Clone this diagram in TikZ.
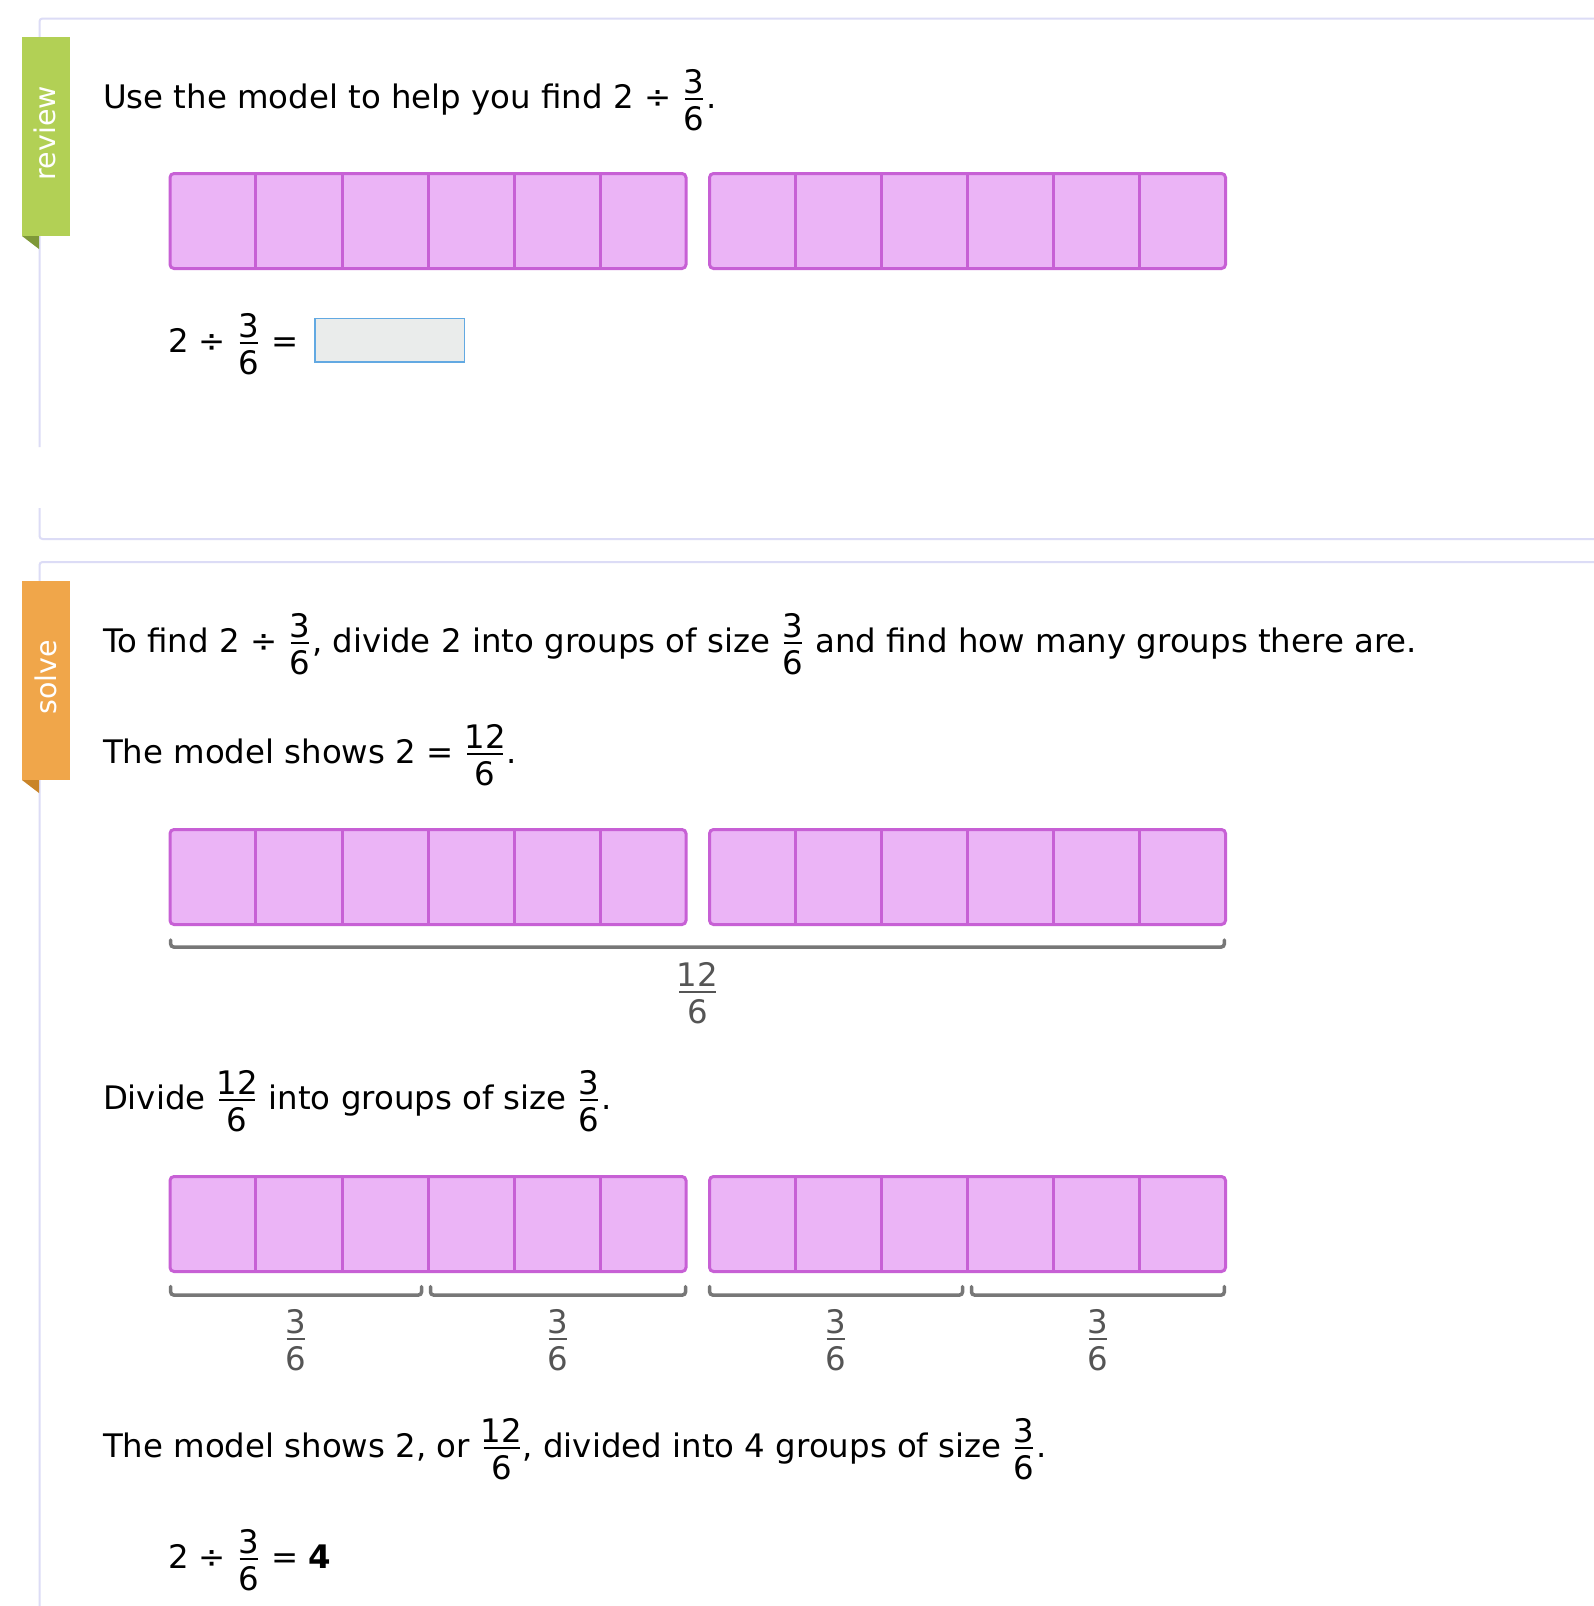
\documentclass[tikz,border=0pt]{standalone}
\usepackage{fontspec}
\setmainfont{DejaVu Sans}
\usetikzlibrary{calc}
\definecolor{barfill}{HTML}{EBB4F6}
\definecolor{barline}{HTML}{C760D5}
\definecolor{brkcol}{HTML}{777777}
\definecolor{lblcol}{HTML}{555555}
\definecolor{panelcol}{HTML}{DCDCF6}
\definecolor{tabgreen}{HTML}{B2D055}
\definecolor{foldgreen}{HTML}{7E9838}
\definecolor{taborange}{HTML}{F0A64A}
\definecolor{foldorange}{HTML}{C98428}
\definecolor{boxfill}{HTML}{EAECEB}
\definecolor{boxline}{HTML}{62A9E2}
\newdimen\frw
\newsavebox\frnum
\newsavebox\frden
\newcommand{\fr}[2]{%
  \sbox\frnum{#1}\sbox\frden{#2}%
  \frw=\wd\frnum \ifdim\wd\frden>\frw \frw=\wd\frden\fi
  \ifdim\frw>0.8em \advance\frw by -0.16em\relax \else \advance\frw by -0.08em\relax \fi
  \kern0.1em\relax
  \raisebox{0.44em}{\makebox[\frw]{\usebox\frnum}}\kern-\frw
  \raisebox{0.24em}{\rule{\frw}{0.06em}}\kern-\frw
  \raisebox{-0.7em}{\makebox[\frw]{\usebox\frden}}%
  \kern0.1em\relax}
\tikzset{
  txt/.style={anchor=base west, inner sep=0pt, outer sep=0pt, font=\fontsize{32.4}{38}\selectfont, text=black},
  lbl/.style={anchor=base, inner sep=0pt, outer sep=0pt, font=\fontsize{32.4}{38}\selectfont, text=lblcol},
  tabtxt/.style={rotate=90, inner sep=0pt, font=\fontsize{28.5}{33}\selectfont, text=white},
  barbox/.style={draw=barline, fill=barfill, line width=3pt, rounded corners=4pt,
    minimum width=516pt, minimum height=95pt, inner sep=0pt, outer sep=0pt, anchor=north west},
  divline/.style={draw=barline, line width=3pt},
  brkt/.style={draw=brkcol, line width=3.5pt, line cap=round, rounded corners=3pt},
  panelline/.style={draw=panelcol, line width=2pt, rounded corners=3pt},
}
\newcommand{\modelbar}[3]{%
  \node[barbox] (#1) at (#2,#3) {};
  \foreach \k in {1,...,5}{%
    \draw[divline] ($(#1.north west)!\k/6!(#1.north east)$) -- ($(#1.south west)!\k/6!(#1.south east)$);}%
}
\begin{document}
\begin{tikzpicture}[x=1pt,y=-1pt]
\useasboundingbox[fill=white] (0,0) rectangle (1594,1606);

% panels
\draw[panelline] (1594,18.5) -- (39.5,18.5) -- (39.5,447);
\draw[panelline] (39.5,508) -- (39.5,539) -- (1594,539);
\draw[panelline] (1594,562) -- (39.5,562) -- (39.5,1606);

% tabs
\fill[tabgreen] (22,37) rectangle (70,236);
\fill[foldgreen] (22,236) -- (39,236) -- (39,249) -- cycle;
\node[tabtxt] (review) at (45,133) {review};
\fill[taborange] (22,581) rectangle (70,780);
\fill[foldorange] (22,780) -- (39,780) -- (39,793) -- cycle;
\node[tabtxt] (solve) at (45.5,677) {solve};

% review panel
\node[txt] (q1) at (103,108) {Use the model to help you find 2 ÷ \fr{3}{6}.};
\modelbar{ra}{170}{173.5}
\modelbar{rb}{709.5}{173.5}
\node[txt] (eq1) at (168,352) {2 ÷ \fr{3}{6} =};
\node[draw=boxline, fill=boxfill, line width=1.5pt, minimum width=149.5pt, minimum height=43.5pt,
  inner sep=0pt, anchor=north west] (ans) at (314.25,317.75) {};

% solve panel
\node[txt] (s1) at (103,652) {To find 2 ÷ \fr{3}{6}, divide 2 into groups of size \fr{3}{6} and find how many groups there are.};
\node[txt] (s2) at (103,763) {The model shows 2 = \fr{12}{6}.};
\modelbar{sa}{170}{829.5}
\modelbar{sb}{709.5}{829.5}
\coordinate (k1a) at (170.7,940);
\coordinate (k1b) at (1224.3,940);
\draw[brkt] (k1a) -- ++(0,7) -| (k1b);
\node[lbl] (l12) at (697.5,1001) {\fr{12}{6}};

\node[txt] (s3) at (103,1109) {Divide \fr{12}{6} into groups of size \fr{3}{6}.};
\modelbar{ta}{170}{1176.5}
\modelbar{tb}{709.5}{1176.5}
\coordinate (g1a) at (170.7,1286.5); \coordinate (g1b) at (421.5,1286.5);
\coordinate (g2a) at (430.5,1286.5); \coordinate (g2b) at (685.5,1286.5);
\coordinate (g3a) at (709.7,1286.5); \coordinate (g3b) at (962.5,1286.5);
\coordinate (g4a) at (971.5,1286.5); \coordinate (g4b) at (1224.3,1286.5);
\draw[brkt] (g1a) -- ++(0,8.5) -| (g1b);
\draw[brkt] (g2a) -- ++(0,8.5) -| (g2b);
\draw[brkt] (g3a) -- ++(0,8.5) -| (g3b);
\draw[brkt] (g4a) -- ++(0,8.5) -| (g4b);
\node[lbl] (l1) at (296,1348) {\fr{3}{6}};
\node[lbl] (l2) at (558,1348) {\fr{3}{6}};
\node[lbl] (l3) at (836,1348) {\fr{3}{6}};
\node[lbl] (l4) at (1098,1348) {\fr{3}{6}};

\node[txt] (s4) at (103,1457) {The model shows 2, or \fr{12}{6}, divided into 4 groups of size \fr{3}{6}.};
\node[txt] (s5) at (168,1568) {2 ÷ \fr{3}{6} = \textbf{4}};
\end{tikzpicture}
\end{document}
